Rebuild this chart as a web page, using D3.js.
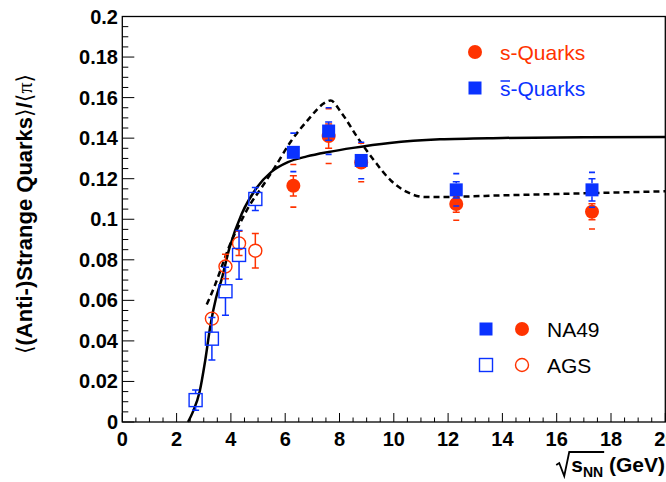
<!DOCTYPE html>
<html>
<head>
<meta charset="utf-8">
<script src="https://cdn.jsdelivr.net/npm/d3@7"></script>
<style>
  html, body { margin: 0; padding: 0; background: #fff; }
  svg { display: block; font-family: "Liberation Sans", Arial, Helvetica, sans-serif; }
</style>
</head>
<body>
<svg id="chart" width="666" height="482"></svg>
<script>
// NA49 points (filled markers)
var na49Energy = [6.3, 7.6, 8.8, 12.3, 17.3];
var na49Sbar = [0.133, 0.1435, 0.129, 0.1145, 0.1145];
var na49SbarStat = [0.003, 0.0045, 0.003, 0.004, 0.0055];
var na49SbarSys = [0.0095, 0.0115, 0.009, 0.008, 0.0086];
var na49S = [0.1165, 0.141, 0.128, 0.1075, 0.1037];
var na49SStat = [0.005, 0.006, 0.003, 0.004, 0.004];
var na49SSys = [0.0105, 0.0135, 0.0095, 0.008, 0.0085];

// AGS points (open markers)
var agsEnergySbar = [2.7, 3.3, 3.8, 4.3, 4.9];
var agsSbar = [0.0108, 0.0411, 0.0645, 0.0824, 0.110];
var agsSbarErr = [0.005, 0.0105, 0.0118, 0.012, 0.0057];
var agsEnergyS = [3.3, 3.8, 4.3, 4.9];
var agsS = [0.051, 0.0767, 0.0881, 0.0845];
var agsSErr = [0.003, 0.006, 0.006, 0.0085];

// solid curve
var solidX = [2.42, 2.6, 2.85, 3.05, 3.25, 3.45, 3.65, 3.95, 4.4, 4.95, 5.5, 6.1, 6.8, 7.6, 8.5, 9.85, 11.7, 14, 17, 20];
var solidY = [0, 0.005, 0.015, 0.03, 0.048, 0.061, 0.07, 0.086, 0.1027, 0.1155, 0.1235, 0.1282, 0.131, 0.1332, 0.1352, 0.1376, 0.1394, 0.1401, 0.1405, 0.1406];

// dashed curve
var dashX = [3.11, 3.4, 3.7, 3.95, 4.3, 4.65, 5.15, 5.61, 6.22, 6.84, 7.45, 7.67, 8.07, 8.68, 9.29, 9.9, 10.52, 11.13, 11.75, 14, 17, 20];
var dashY = [0.058, 0.067, 0.078, 0.087, 0.097, 0.106, 0.116, 0.1255, 0.1386, 0.149, 0.1574, 0.1586, 0.1525, 0.14, 0.1287, 0.119, 0.1132, 0.111, 0.111, 0.1118, 0.1128, 0.1138];

var xTicks = [0, 2, 4, 6, 8, 10, 12, 14, 16, 18, 20];
var yTicks = [0, 0.02, 0.04, 0.06, 0.08, 0.1, 0.12, 0.14, 0.16, 0.18, 0.2];
var yTickLabels = ["0", "0.02", "0.04", "0.06", "0.08", "0.1", "0.12", "0.14", "0.16", "0.18", "0.2"];

var red = "#ff3300", blue = "#0a32ff";

var svg = d3.select("#chart");
var x = d3.scaleLinear().domain([0, 20]).range([122.3, 665.3]);
var y = d3.scaleLinear().domain([0, 0.2]).range([422, 16.5]);

// frame
svg.append("rect")
  .attr("x", x(0)).attr("y", y(0.2))
  .attr("width", x(20) - x(0)).attr("height", y(0) - y(0.2))
  .attr("fill", "none").attr("stroke", "#000").attr("stroke-width", 1.3);

// ticks
var xMinor = d3.range(0, 20.001, 0.5);
svg.append("g").selectAll("line").data(xMinor).join("line")
  .attr("x1", d => x(d)).attr("x2", d => x(d))
  .attr("y1", y(0)).attr("y2", d => y(0) - (Math.abs(d % 2) < 1e-6 ? 9 : 4.5))
  .attr("stroke", "#000").attr("stroke-width", 1);
var yMinor = d3.range(0, 0.2001, 0.005);
svg.append("g").selectAll("line").data(yMinor).join("line")
  .attr("y1", d => y(d)).attr("y2", d => y(d))
  .attr("x1", x(0)).attr("x2", d => x(0) + (Math.abs(Math.round(d / 0.02) * 0.02 - d) < 1e-6 ? 12 : 6))
  .attr("stroke", "#000").attr("stroke-width", 1);

svg.append("g").selectAll("text").data(xTicks).join("text")
  .attr("x", d => x(d)).attr("y", 446)
  .attr("text-anchor", "middle")
  .attr("font-size", 20).attr("font-weight", "bold")
  .text(d => d);
svg.append("g").selectAll("text").data(yTicks).join("text")
  .attr("x", 118).attr("y", d => y(d) + 7)
  .attr("text-anchor", "end")
  .attr("font-size", 20).attr("font-weight", "bold")
  .text((d, i) => yTickLabels[i]);

// axis titles
var yt = svg.append("text")
  .attr("transform", "translate(32,214) rotate(-90)")
  .attr("text-anchor", "middle")
  .attr("font-size", 22).attr("font-weight", "bold");
yt.append("tspan").attr("font-family", "DejaVu Sans").attr("font-weight", "normal").text("\u27E8");
yt.append("tspan").text("(Anti-)Strange Quarks");
yt.append("tspan").attr("font-family", "DejaVu Sans").attr("font-weight", "normal").text("\u27E9");
yt.append("tspan").text("/");
yt.append("tspan").attr("font-family", "DejaVu Sans").attr("font-weight", "normal").text("\u27E8");
yt.append("tspan").attr("font-family", "Liberation Serif").attr("font-weight", "normal").text("\u03C0");
yt.append("tspan").attr("font-family", "DejaVu Sans").attr("font-weight", "normal").text("\u27E9");

var xtY = 472;
var xt = svg.append("text")
  .attr("x", 665).attr("y", xtY)
  .attr("text-anchor", "end")
  .attr("font-size", 21).attr("font-weight", "bold");
xt.append("tspan").text("s");
xt.append("tspan").attr("font-size", 14).attr("dy", 5).text("NN");
xt.append("tspan").attr("dy", -5).text(" (GeV)");
var xn = xt.node();
var sx = xn.getStartPositionOfChar(0).x;
var nx = xn.getEndPositionOfChar(2).x;
svg.append("path")
  .attr("d", "M" + (sx - 15) + "," + (xtY - 7) + " L" + (sx - 12) + "," + (xtY - 9)
    + " L" + (sx - 7) + "," + (xtY + 4) + " L" + (sx - 2) + "," + (xtY - 20)
    + " L" + (nx + 1) + "," + (xtY - 20))
  .attr("fill", "none").attr("stroke", "#000").attr("stroke-width", 1.8);

// curves
var plot = svg.append("g");
plot.append("path")
  .attr("d", d3.line().x(d => x(d[0])).y(d => y(d[1])).curve(d3.curveMonotoneX)(d3.zip(solidX, solidY)))
  .attr("fill", "none").attr("stroke", "#000").attr("stroke-width", 2.5);
plot.append("path")
  .attr("d", d3.line().x(d => x(d[0])).y(d => y(d[1])).curve(d3.curveMonotoneX)(d3.zip(dashX, dashY)))
  .attr("fill", "none").attr("stroke", "#000").attr("stroke-width", 2.5)
  .attr("stroke-dasharray", "6,4");

var half = 6.5;
function errBars(g, xs, ys, errs, color) {
  var rows = d3.zip(xs, ys, errs);
  g.append("g").selectAll("path").data(rows).join("path")
    .attr("d", d => {
      var cx = x(d[0]), top = y(d[1] + d[2]), bot = y(d[1] - d[2]), cy = y(d[1]);
      var s = "";
      if (cy - half > top) s += "M" + cx + "," + (cy - half) + "V" + top + "M" + (cx - 3.5) + "," + top + "H" + (cx + 3.5);
      if (cy + half < bot) s += "M" + cx + "," + (cy + half) + "V" + bot + "M" + (cx - 3.5) + "," + bot + "H" + (cx + 3.5);
      return s;
    })
    .attr("fill", "none").attr("stroke", color).attr("stroke-width", 1.5);
}
function sysMarks(g, xs, ys, sys, color) {
  var rows = d3.zip(xs, ys, sys);
  g.append("g").selectAll("path").data(rows).join("path")
    .attr("d", d => {
      var cx = x(d[0]);
      return "M" + (cx - 3) + "," + y(d[1] + d[2]) + "H" + (cx + 3) + "M" + (cx - 3) + "," + y(d[1] - d[2]) + "H" + (cx + 3);
    })
    .attr("fill", "none").attr("stroke", color).attr("stroke-width", 1.6);
}

// AGS
errBars(plot, agsEnergyS, agsS, agsSErr, red);
plot.append("g").selectAll("circle").data(d3.zip(agsEnergyS, agsS)).join("circle")
  .attr("cx", d => x(d[0])).attr("cy", d => y(d[1])).attr("r", 6.5)
  .attr("fill", "none").attr("stroke", red).attr("stroke-width", 1.4);
errBars(plot, agsEnergySbar, agsSbar, agsSbarErr, blue);
plot.append("g").selectAll("rect").data(d3.zip(agsEnergySbar, agsSbar)).join("rect")
  .attr("x", d => x(d[0]) - half).attr("y", d => y(d[1]) - half)
  .attr("width", 2 * half).attr("height", 2 * half)
  .attr("fill", "none").attr("stroke", blue).attr("stroke-width", 1.4);

// NA49
sysMarks(plot, na49Energy, na49S, na49SSys, red);
errBars(plot, na49Energy, na49S, na49SStat, red);
plot.append("g").selectAll("circle").data(d3.zip(na49Energy, na49S)).join("circle")
  .attr("cx", d => x(d[0])).attr("cy", d => y(d[1])).attr("r", 7)
  .attr("fill", red);
sysMarks(plot, na49Energy, na49Sbar, na49SbarSys, blue);
errBars(plot, na49Energy, na49Sbar, na49SbarStat, blue);
plot.append("g").selectAll("rect").data(d3.zip(na49Energy, na49Sbar)).join("rect")
  .attr("x", d => x(d[0]) - half).attr("y", d => y(d[1]) - half)
  .attr("width", 2 * half).attr("height", 2 * half)
  .attr("fill", blue);

// legend: quark type
var leg = svg.append("g").attr("font-size", 21);
leg.append("circle").attr("cx", 475).attr("cy", 52).attr("r", 7).attr("fill", red);
leg.append("text").attr("x", 500).attr("y", 60).attr("fill", red).text("s-Quarks");
leg.append("rect").attr("x", 475 - half).attr("y", 88 - half).attr("width", 2 * half).attr("height", 2 * half).attr("fill", blue);
var sb = leg.append("text").attr("x", 500).attr("y", 96).attr("fill", blue).text("s-Quarks");
var sbn = sb.node();
leg.append("line")
  .attr("x1", sbn.getStartPositionOfChar(0).x + 0.5).attr("x2", sbn.getEndPositionOfChar(0).x - 0.5)
  .attr("y1", 96 - 15).attr("y2", 96 - 15)
  .attr("stroke", blue).attr("stroke-width", 1.5);

// legend: experiment
leg.append("rect").attr("x", 486 - half).attr("y", 329 - half).attr("width", 2 * half).attr("height", 2 * half).attr("fill", blue);
leg.append("circle").attr("cx", 522).attr("cy", 329).attr("r", 7).attr("fill", red);
leg.append("text").attr("x", 547).attr("y", 337).text("NA49");
leg.append("rect").attr("x", 486 - half).attr("y", 365 - half).attr("width", 2 * half).attr("height", 2 * half)
  .attr("fill", "none").attr("stroke", blue).attr("stroke-width", 1.4);
leg.append("circle").attr("cx", 522).attr("cy", 365).attr("r", 6.5)
  .attr("fill", "none").attr("stroke", red).attr("stroke-width", 1.4);
leg.append("text").attr("x", 547).attr("y", 373).text("AGS");
</script>
</body>
</html>
